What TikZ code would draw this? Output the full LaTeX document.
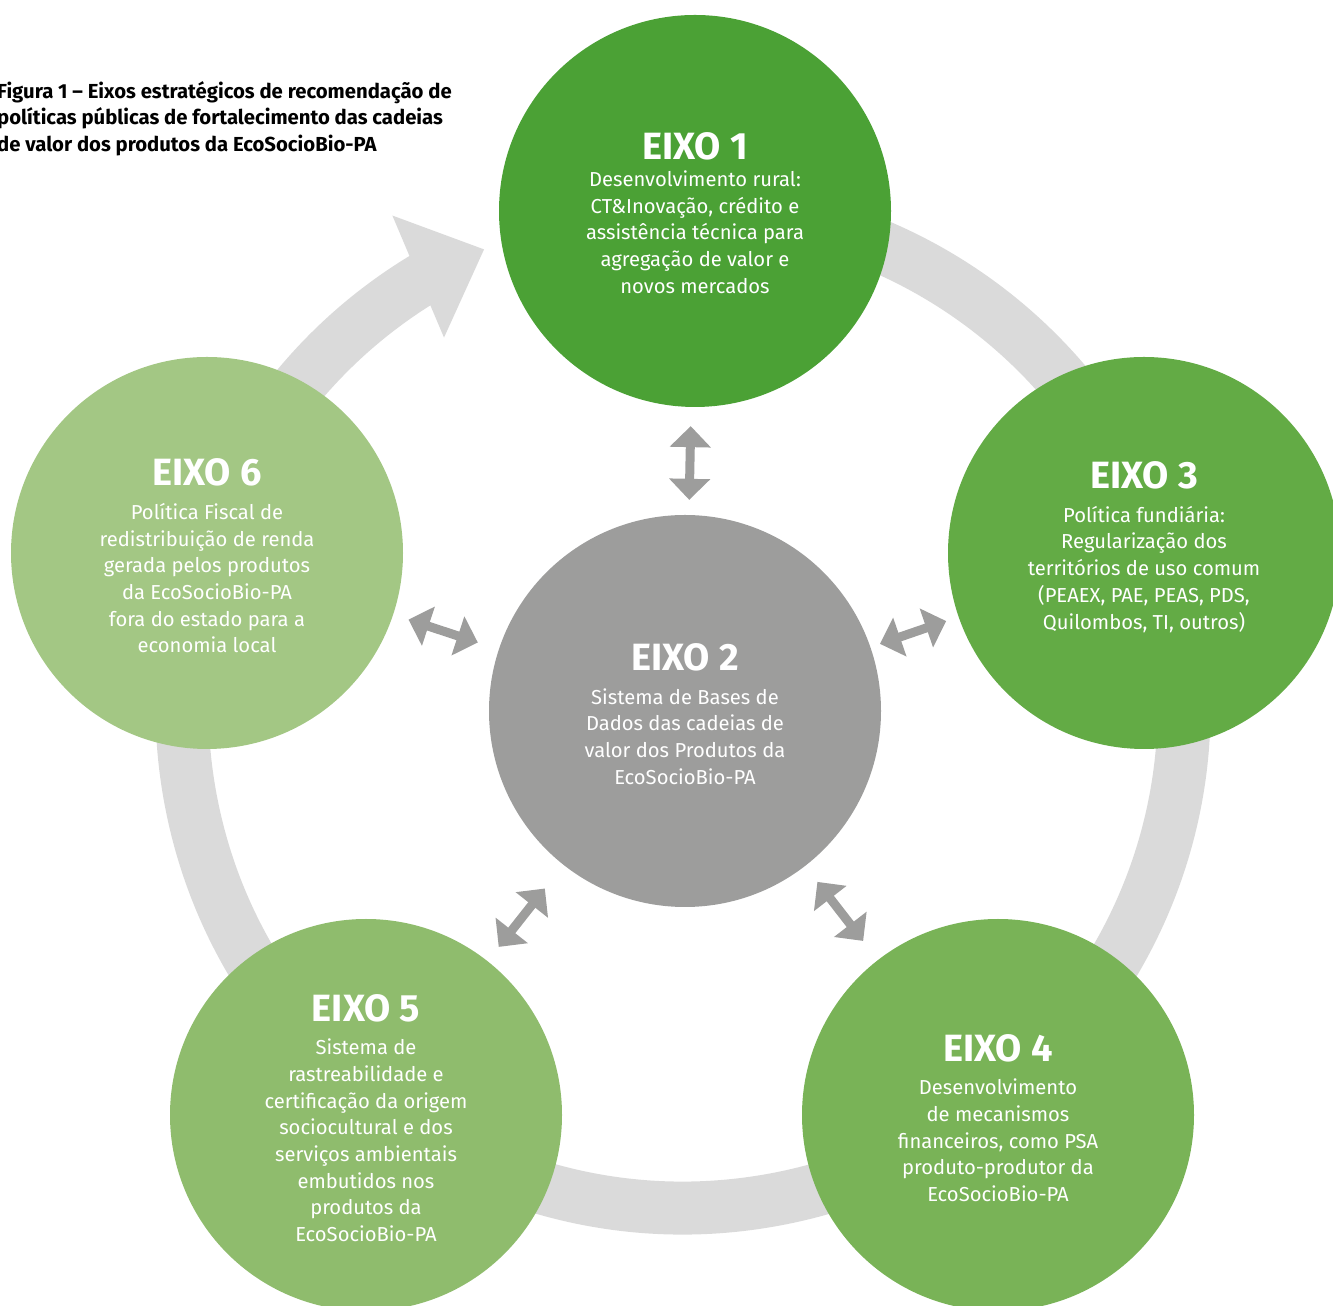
\documentclass[tikz,border=0pt]{standalone}
\usepackage{fontspec}
\setmainfont{Fira Sans}
\usetikzlibrary{arrows.meta,calc}
\definecolor{EixoUm}{HTML}{4BA135}
\definecolor{EixoDois}{HTML}{9D9D9C}
\definecolor{EixoTres}{HTML}{63AB45}
\definecolor{EixoQuatro}{HTML}{79B357}
\definecolor{EixoCinco}{HTML}{8FBC6D}
\definecolor{EixoSeis}{HTML}{A3C784}
\definecolor{RingClr}{HTML}{DADADA}
\definecolor{ArrowClr}{HTML}{9D9D9C}
\newcommand{\hdr}{\fontsize{38}{38}\selectfont\bfseries}
\newcommand{\bodytxt}{\fontsize{20.2}{26.7}\selectfont}

\begin{document}
\begin{tikzpicture}[x=1pt,y=1pt,
  eixo/.style={circle,minimum size=392pt,inner sep=0pt},
  eixotxt/.style={inner sep=0pt,text=white,align=center,font=\bodytxt},
  ring/.style={line width=53pt,color=RingClr},
  dbl/.style={line width=9pt,color=ArrowClr,
    arrows={Triangle[length=21pt,width=40pt]-Triangle[length=21pt,width=40pt]}}]
\useasboundingbox (0,0) rectangle (1333,1306);

% Title of the figure.
\node[anchor=north west,inner sep=0pt,align=left,
  font=\fontsize{20.3}{26.5}\selectfont\bfseries] (title) at (-3,1225)
  {Figura 1 – Eixos estratégicos de recomendação de\\
   políticas públicas de fortalecimento das cadeias\\
   de valor dos produtos da EcoSocioBio-PA};

% The grey ring with its arrow head.
\coordinate (O) at (683,599);
\draw[ring] ($(O)+(100:501)$) arc[start angle=100,end angle=-239.5,radius=501];
\fill[RingClr] ($(O)+(120.6:571)$) -- ($(O)+(113.5:499)$)
  -- ($(O)+(122.9:440)$) -- cycle;

% The six axes.
\node[eixo,fill=EixoUm] (e1) at (695,1095) {};
\node[eixo,fill=EixoDois] (e2) at (685,595) {};
\node[eixo,fill=EixoTres] (e3) at (1144,753) {};
\node[eixo,fill=EixoQuatro] (e4) at (998,191) {};
\node[eixo,fill=EixoCinco] (e5) at (366,191) {};
\node[eixo,fill=EixoSeis] (e6) at (207,753) {};

% Texts of the axes.
\node[eixotxt] (t1) at ($(e1)+(0,-2)$)
  {{\hdr EIXO 1}\\Desenvolvimento rural:\\CT\&Inovação, crédito e\\
   assistência técnica para\\agregação de valor e\\novos mercados};
\node[eixotxt] (t2) at ($(e2)+(0,-3)$)
  {{\hdr EIXO 2}\\[7pt]Sistema de Bases de\\Dados das cadeias de\\
   valor dos Produtos da\\EcoSocioBio-PA};
\node[eixotxt] (t3) at ($(e3)+(0,6)$)
  {{\hdr EIXO 3}\\[7pt]Política fundiária:\\Regularização dos\\
   territórios de uso comum\\(PEAEX, PAE, PEAS, PDS,\\Quilombos, TI, outros)};
\node[eixotxt] (t4) at ($(e4)+(0,-3)$)
  {{\hdr EIXO 4}\\[7pt]Desenvolvimento\\de mecanismos\\
   financeiros, como PSA\\produto-produtor da\\EcoSocioBio-PA};
\node[eixotxt] (t5) at ($(e5)+(0,-3)$)
  {{\hdr EIXO 5}\\[7pt]Sistema de\\rastreabilidade e\\certificação da origem\\
   sociocultural e dos\\serviços ambientais\\embutidos nos\\produtos da\\
   EcoSocioBio-PA};
\node[eixotxt] (t6) at ($(e6)+(0,-3)$)
  {{\hdr EIXO 6}\\[7pt]Política Fiscal de\\redistribuição de renda\\
   gerada pelos produtos\\da EcoSocioBio-PA\\fora do estado para a\\
   economia local};

% Double arrows between the centre and the outer axes.
\draw[dbl,shorten <=15pt,shorten >=19pt] (e2) -- (e1);
\draw[dbl,shorten <=10pt,shorten >=13pt] (e2) -- (e3);
\draw[dbl,shorten <=20pt,shorten >=24pt] (e2) -- (e4);
\draw[dbl,shorten <=30pt,shorten >=18pt] (e2) -- (e5);
\draw[dbl,shorten <=22pt,shorten >=16pt] (e2) -- (e6);
\end{tikzpicture}
\end{document}
